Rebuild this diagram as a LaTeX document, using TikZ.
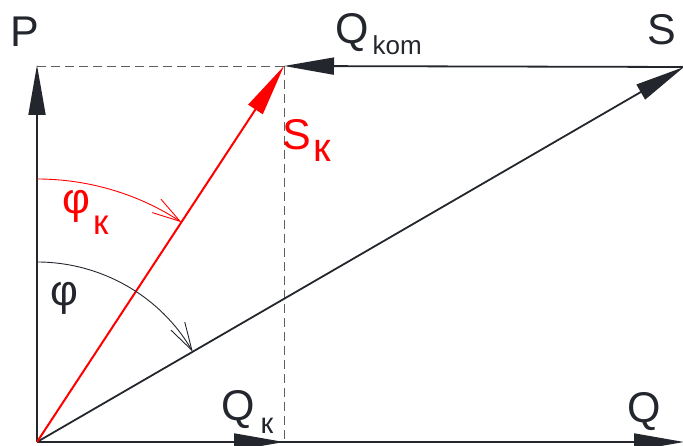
\documentclass[tikz,border=0pt]{standalone}
\usepackage{fontspec}
\setmainfont{Liberation Sans}
\usepackage{tikz}
\usetikzlibrary{arrows.meta,calc}

\definecolor{ink}{RGB}{35,39,45}
\definecolor{guide}{RGB}{95,95,95}
% lowered, smaller index text: drop, size, text
\newcommand{\subtxt}[3]{\raisebox{-#1pt}{\fontsize{#2}{#2}\selectfont #3}}

\begin{document}
\begin{tikzpicture}[x=1pt,y=1pt,
  vec/.style={ink,line width=1.8pt,-{Triangle[length=50pt,width=17pt]}},
  redvec/.style={red,line width=2pt,-{Triangle[length=52pt,width=17pt]}},
  guideline/.style={guide,line width=0.9pt,dash pattern=on 9pt off 5pt},
  angarc/.style={line width=0.9pt,-{Straight Barb[length=28pt,width=16pt]}},
  lbl/.style={inner sep=0pt,anchor=base west,font=\fontsize{43}{50}\selectfont}]
\useasboundingbox (0,0) rectangle (683,446);
% points of the power triangle
\coordinate (O) at (37,4);
\coordinate (P) at (37,381);
\coordinate (K) at (284,380);
\coordinate (S) at (684,379);
\coordinate (Q) at (684,4);
\coordinate (QK) at (284,4);
\coordinate (PK) at (37,380);
% helper lines
\draw[guideline] (PK) -- (K);
\draw[guideline] (K) -- (QK);
% vectors
\draw[vec] (O) -- (P);
\draw[vec] (O) -- (Q);
\draw[vec] (O) -- (QK);
\draw[vec] (O) -- (S);
\draw[vec] (S) -- (K);
\draw[redvec] (O) -- (K);
% angles
\draw[angarc,red] ($(O)+(0,263)$) arc[start angle=90,end angle=56.7,radius=263];
\draw[angarc,ink] ($(O)+(0,180)$) arc[start angle=90,end angle=30.1,radius=180];
% labels
\node[lbl,ink] (lP) at (10,399) {P};
\node[lbl,ink] (lQkom) at (335,402) {Q\kern4pt\subtxt{11}{26}{kom}};
\node[lbl,ink] (lS) at (647,401) {S};
\node[lbl,red] (lSK) at (282,296) {S\kern3pt\subtxt{12}{40}{к}};
\node[lbl,red] (lphiK) at (62,232) {φ\kern3pt\subtxt{21}{35}{к}};
\node[lbl,ink] (lphi) at (50,140) {φ};
\node[lbl,ink] (lQK) at (221,25) {Q\kern6pt\subtxt{13}{29}{к}};
\node[lbl,ink] (lQ) at (627,23) {Q};
\end{tikzpicture}
\end{document}
